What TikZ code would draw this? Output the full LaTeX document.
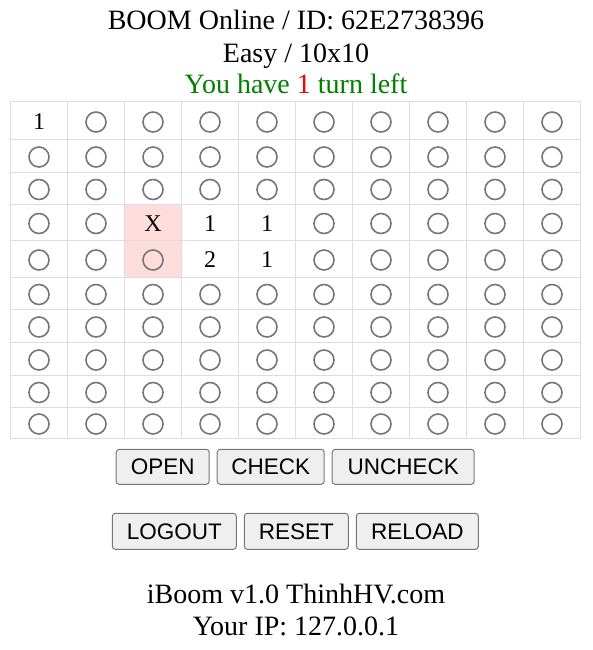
\documentclass[tikz,border=0pt]{standalone}
\usepackage{fontspec}
\setmainfont{Liberation Serif}
\setsansfont{Liberation Sans}
\usetikzlibrary{positioning}

\definecolor{gridline}{HTML}{DDDDDD}
\definecolor{radio}{HTML}{767676}
\definecolor{hit}{HTML}{FFDDDD}
\definecolor{btnfill}{HTML}{EFEFEF}
\definecolor{okgreen}{HTML}{008000}

% cells that show a number instead of a radio button
\foreach \r/\c/\t in {1/1/1, 4/3/X, 4/4/1, 4/5/1, 5/4/2, 5/5/1}
  {\expandafter\xdef\csname cell-\r-\c\endcsname{\t}}

\begin{document}
\begin{tikzpicture}[x=1pt,y=-1pt,
    cellbox/.style={draw=gridline,line width=1pt,minimum width=57pt,inner sep=0pt},
    hitcell-4-3/.style={fill=hit},
    hitcell-5-3/.style={fill=hit},
    radiobtn/.style={circle,draw=radio,line width=1.6pt,minimum size=20pt,inner sep=0pt,yshift=-1.5pt},
    num/.style={font=\fontsize{24}{24}\selectfont,inner sep=0pt,yshift=-1.5pt},
    btn/.style={draw=radio,fill=btnfill,rounded corners=3pt,line width=1pt,
      font=\sffamily\fontsize{22.5}{22.5}\selectfont,inner xsep=0pt,minimum height=35pt},
    hdr/.style={font=\fontsize{28}{28}\selectfont,anchor=base,inner sep=0pt}]
    \useasboundingbox (0,0) rectangle (592,650);

    \node[hdr] (title) at (296,30) {BOOM Online / ID: 62E2738396};
    \node[hdr] (level) at (296,62.7) {Easy / 10x10};
    \node[hdr,text=okgreen] (turns) at (296,93.3) {You have {\color{red}1} turn left};

    % board
    \foreach \r/\ya/\yb in {1/102/139, 2/139/172, 3/172/204, 4/204/240, 5/240/277,
                            6/277/309, 7/309/342, 8/342/375, 9/375/407, 10/407/438}{
      \foreach \c in {1,...,10}{
        \pgfmathsetmacro\cx{39+57*(\c-1)}
        \pgfmathsetmacro\cy{(\ya+\yb)/2}
        \pgfmathsetmacro\ch{\yb-\ya}
        \node[cellbox,minimum height=\ch pt,hitcell-\r-\c/.try] (c\r-\c) at (\cx,\cy) {};
        \ifcsname cell-\r-\c\endcsname
          \node[num] (t\r-\c) at (c\r-\c) {\csname cell-\r-\c\endcsname};
        \else
          \node[radiobtn] (o\r-\c) at (c\r-\c) {};
        \fi
      }
    }

    \node[btn,minimum width=93pt] (open) at (162.7,466.8) {OPEN};
    \node[btn,minimum width=107pt,right=7pt of open] (check) {CHECK};
    \node[btn,minimum width=142pt,right=7pt of check] (uncheck) {UNCHECK};

    \node[btn,minimum width=124pt,minimum height=36pt] (logout) at (174.3,531.3) {LOGOUT};
    \node[btn,minimum width=104pt,minimum height=36pt,right=7pt of logout] (reset) {RESET};
    \node[btn,minimum width=122pt,minimum height=36pt,right=7pt of reset] (reload) {RELOAD};

    \node[hdr] (credit) at (296,603.3) {iBoom v1.0 ThinhHV.com};
    \node[hdr] (myip) at (296,635) {Your IP: 127.0.0.1};
\end{tikzpicture}
\end{document}
